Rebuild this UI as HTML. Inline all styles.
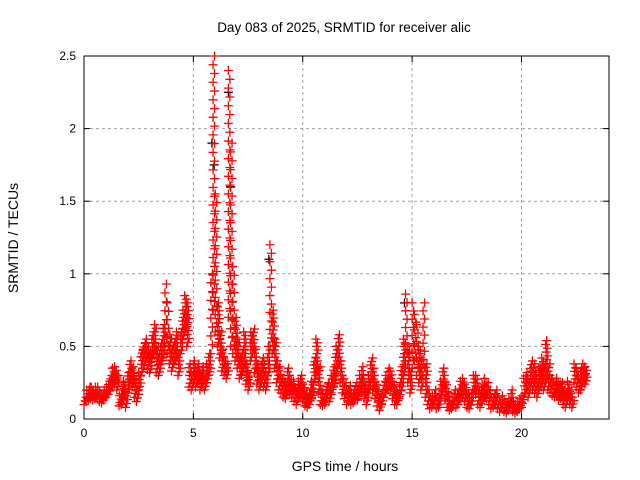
<!DOCTYPE html>
<html><head><meta charset="utf-8"><style>
body{margin:0;background:#fff;}
svg{display:block;font-family:"Liberation Sans",sans-serif;}
</style></head><body>
<svg id="chart" width="640" height="480" viewBox="0 0 640 480">
<rect width="640" height="480" fill="#fff"/>
<text x="344" y="32" font-size="13.5" text-anchor="middle">Day 083 of 2025, SRMTID for receiver alic</text>
<text transform="translate(18,238) rotate(-90)" font-size="14" text-anchor="middle">SRMTID / TECUs</text>
<text x="345" y="471" font-size="14" text-anchor="middle">GPS time / hours</text>
<g id="grid"></g>
<g id="axes"></g>
<g id="marks"></g>
</svg>
<script>
const xTicks=[0,5,10,15,20];
const yTicks=[0,0.5,1,1.5,2,2.5];
const yTickLabels=["0","0.5","1","1.5","2","2.5"];
// per 0.1-hour bin: low and high of the SRMTID cluster
const redLow=[0.10,0.12,0.13,0.14,0.13,0.14,
0.14,0.12,0.11,0.13,0.15, 0.17,0.2,0.22,0.24,0.2, 0.09,0.1,0.14,0.08,0.18, 0.25,0.22,0.15,0.12,0.2,
0.3,0.35,0.4,0.34,0.32, 0.42,0.45,0.32,0.3,0.38, 0.42,0.5,0.45,0.38,0.33, 0.38,0.4,0.3,0.45,0.55,
0.6,0.5,0.22,0.2,0.25, 0.22,0.24,0.2,0.22,0.2, 0.25,0.3,0.45,0.75,0.6, 0.5,0.42,0.33,0.3,0.28,
0.7,0.5,0.45,0.4,0.35, 0.28,0.3,0.35,0.24,0.2, 0.4,0.45,0.32,0.24,0.2, 0.25,0.22,0.2,0.3,0.5,
0.45,0.35,0.25,0.2,0.18, 0.15,0.14,0.2,0.17,0.15, 0.12,0.1,0.14,0.16,0.12, 0.09,0.08,0.1,0.14,0.25,
0.3,0.18,0.1,0.09,0.1, 0.14,0.12,0.18,0.22,0.3, 0.35,0.25,0.18,0.14,0.1, 0.12,0.1,0.11,0.14,0.13,
0.18,0.2,0.14,0.1,0.18, 0.25,0.2,0.14,0.09,0.06, 0.1,0.15,0.18,0.2,0.2, 0.14,0.1,0.1,0.14,0.2,
0.3,0.4,0.25,0.18,0.35, 0.4,0.3,0.25,0.2,0.3, 0.15,0.1,0.07,0.08,0.1, 0.07,0.08,0.14,0.2,0.14,
0.08,0.06,0.07,0.1,0.08, 0.1,0.14,0.15,0.12,0.08, 0.07,0.1,0.18,0.17,0.1, 0.08,0.12,0.15,0.14,0.1,
0.07,0.08,0.1,0.07,0.05, 0.08,0.05,0.04,0.06,0.1, 0.05,0.04,0.05,0.07,0.08, 0.15,0.18,0.15,0.22,0.2,
0.18,0.15,0.2,0.22,0.2, 0.25,0.2,0.18,0.16,0.15, 0.16,0.13,0.14,0.1,0.08, 0.14,0.1,0.08,0.25,0.22,
0.18,0.2,0.25,0.24];
const redHigh=[0.15,0.2,0.22,0.22,0.2,0.22,
0.22,0.18,0.16,0.2,0.22, 0.26,0.3,0.35,0.36,0.3, 0.16,0.2,0.26,0.16,0.32, 0.4,0.36,0.28,0.22,0.32,
0.48,0.52,0.55,0.5,0.46, 0.6,0.65,0.5,0.45,0.52, 0.65,0.93,0.8,0.58,0.5, 0.55,0.6,0.45,0.62,0.75,
0.85,0.8,0.38,0.32,0.4, 0.35,0.38,0.32,0.36,0.3, 0.38,0.45,1.0,2.5,1.55, 0.8,0.6,0.48,0.42,0.38,
2.4,1.9,1.05,0.7,0.55, 0.42,0.48,0.6,0.38,0.32, 0.6,0.62,0.48,0.38,0.32, 0.42,0.38,0.32,0.5,1.2,
0.75,0.55,0.4,0.36,0.3, 0.28,0.26,0.35,0.3,0.26, 0.24,0.2,0.26,0.3,0.24, 0.18,0.15,0.2,0.26,0.42,
0.55,0.36,0.2,0.17,0.2, 0.25,0.24,0.3,0.36,0.5, 0.58,0.4,0.3,0.25,0.2, 0.23,0.18,0.2,0.25,0.23,
0.3,0.36,0.26,0.2,0.3, 0.42,0.35,0.26,0.2,0.15, 0.2,0.26,0.3,0.35,0.33, 0.26,0.2,0.18,0.25,0.36,
0.55,0.86,0.5,0.35,0.8, 0.72,0.65,0.5,0.4,0.8, 0.38,0.2,0.15,0.16,0.2, 0.15,0.17,0.26,0.35,0.26,
0.18,0.12,0.15,0.2,0.17, 0.2,0.26,0.28,0.24,0.17, 0.15,0.2,0.3,0.3,0.2, 0.18,0.24,0.28,0.25,0.2,
0.15,0.17,0.2,0.15,0.12, 0.16,0.12,0.1,0.14,0.2, 0.12,0.1,0.12,0.14,0.16, 0.28,0.32,0.28,0.4,0.38,
0.32,0.28,0.36,0.42,0.35, 0.54,0.38,0.3,0.28,0.26, 0.28,0.24,0.25,0.2,0.18, 0.26,0.2,0.15,0.38,0.35,
0.3,0.35,0.38,0.36];
const blackTimes=[5.85,5.95,6.6,6.7,8.45,14.65];
const blackValues=[1.9,1.75,2.25,1.6,1.1,0.8];

const L=84,R=609,T=56,B=419,XMAX=24,YMAX=2.5;
const xs=v=>L+(R-L)*v/XMAX;
const ys=v=>B-(B-T)*v/YMAX;
const NS="http://www.w3.org/2000/svg";
const grid=document.getElementById('grid'),axes=document.getElementById('axes'),marks=document.getElementById('marks');
function mk(tag,attrs,parent){const e=document.createElementNS(NS,tag);for(const k in attrs)e.setAttribute(k,attrs[k]);parent.appendChild(e);return e;}
xTicks.forEach(t=>{
  const x=xs(t);
  if(t>0){const g=mk('line',{x1:x,x2:x,y1:T,y2:B,stroke:'#a0a0a0','stroke-dasharray':'3,3'},grid);
  
  }
  mk('line',{x1:x,x2:x,y1:B,y2:B-6,stroke:'#000'},axes);
  mk('line',{x1:x,x2:x,y1:T,y2:T+6,stroke:'#000'},axes);
  const lb=mk('text',{x:x,y:B+18,'font-size':12,'text-anchor':'middle'},axes);lb.textContent=t;
  
  
});
yTicks.forEach((t,i)=>{
  const y=ys(t);
  if(t>0&&t<YMAX){const g=mk('line',{x1:L,x2:R,y1:y,y2:y,stroke:'#a0a0a0','stroke-dasharray':'3,3'},grid);
  
  }
  mk('line',{x1:L,x2:L+6,y1:y,y2:y,stroke:'#000'},axes);
  mk('line',{x1:R,x2:R-6,y1:y,y2:y,stroke:'#000'},axes);
  const lb=mk('text',{x:L-8,y:y+4,'font-size':12,'text-anchor':'end'},axes);lb.textContent=yTickLabels[i];
  
  
});
mk('rect',{x:L,y:T,width:R-L,height:B-T,fill:'none',stroke:'#000'},axes);
function plus(x,y,col,name){
  const s=4.5;
  const p=mk('path',{d:`M${x-s},${y}H${x+s}M${x},${y-s}V${y+s}`,stroke:col,'stroke-width':1.3,fill:'none'},marks);
  
  
}
blackTimes.forEach((t,i)=>plus(xs(t),ys(blackValues[i]),'#000','black-point'));
redLow.forEach((lo,i)=>{
  const t=i*0.1,hi=redHigh[i];
  const y0=ys(lo),y1=ys(hi);
  const span=y0-y1;
  const tall=span>45;
  const step=tall?9:4;
  const n=Math.max(2,Math.ceil(span/step)+1);
  for(let k=0;k<n;k++){
    const f=k/(n-1);
    const xx=tall?xs(t)+(k%2)*1.5:xs(t)+((k*7)%5)/4*(xs(0.1)-xs(0));
    plus(xx,y0+(y1-y0)*f,'#f00','red-point');
  }
});
</script>
</body></html>
